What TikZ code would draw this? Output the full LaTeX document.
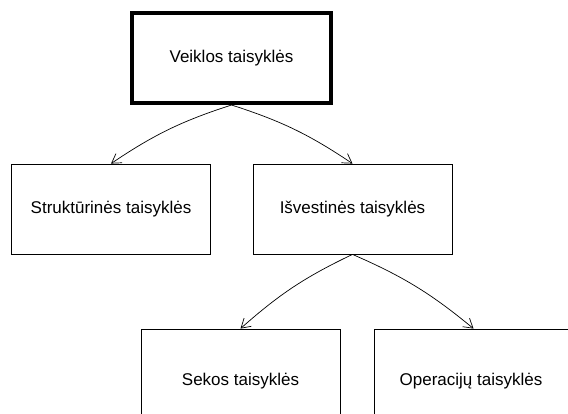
\documentclass[tikz,border=0pt]{standalone}
\usepackage{fontspec}
\setmainfont{Liberation Sans}
\usetikzlibrary{arrows.meta}
\begin{document}
\begin{tikzpicture}[x=1pt,y=-1pt,
  rulebox/.style={draw=black, line width=0.8pt, rectangle, inner sep=0pt,
    minimum width=199pt, minimum height=90pt, font=\fontsize{17}{20}\selectfont},
  rootbox/.style={rulebox, line width=4pt},
  label/.style={font=\fontsize{17}{20}\selectfont, inner sep=0pt},
  link/.style={draw=black, line width=0.7pt, -{Straight Barb[length=9pt,width=11pt]}}]
  \useasboundingbox (0,0) rectangle (568,414);
  \clip (0,0) rectangle (568,414);

  % top level
  \node[rootbox] (veikla) at (231.5,58) {Veiklos taisyklės};

  % second level
  \node[rulebox] (strukt) at (111,209) {Struktūrinės taisyklės};
  \node[rulebox] (isvest) at (352.5,209) {Išvestinės taisyklės};

  % third level (boxes run past the lower edge)
  \node[rulebox, minimum height=104pt] (sekos) at (240.5,381) {};
  \node[label] (sekost) at (sekos.center) {Sekos taisyklės};
  \node[rulebox, minimum height=104pt] (oper) at (473.5,381) {};
  \node[label] (opert) at (471,381) {Operacijų taisyklės};

  % connectors
  \draw[link] (veikla.south) to[bend right=8] (strukt.north);
  \draw[link] (veikla.south) to[bend left=8] (isvest.north);
  \draw[link] (isvest.south) to[bend right=8] (sekos.north);
  \draw[link] (isvest.south) to[bend left=8] (oper.north);
\end{tikzpicture}
\end{document}
